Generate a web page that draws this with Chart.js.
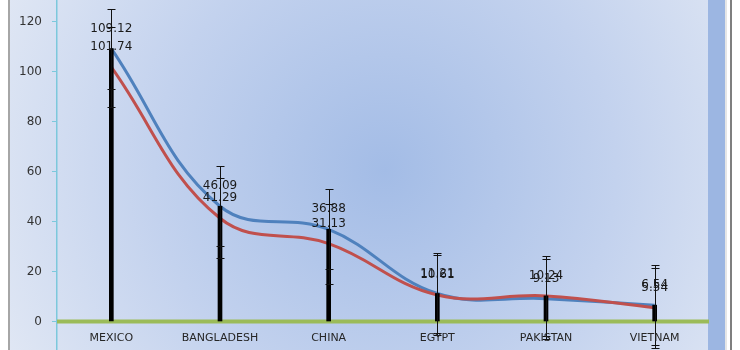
<!DOCTYPE html>
<html>
<head>
<meta charset="utf-8">
<script src="https://cdn.jsdelivr.net/npm/chart.js@4.4.1/dist/chart.umd.min.js"></script>
<style>
  html,body{ margin:0; padding:0; background:#fff; }
  #wrap{ width:740px; height:350px; }
</style>
</head>
<body>
<div id="wrap"><canvas id="chart" width="740" height="350"></canvas></div>
<script>
// values
const categories = ["MEXICO","BANGLADESH","CHINA","EGYPT","PAKISTAN","VIETNAM"];
const seriesBlue = [109.12, 46.09, 36.88, 11.21, 9.13, 6.54];
const seriesRed  = [101.74, 41.29, 31.13, 10.61, 10.24, 5.54];
const dropLines  = [109.12, 46.09, 36.88, 11.21, 10.24, 6.54];
const errorAmount = 16;
const yTicks = [0, 20, 40, 60, 80, 100, 120];

const BLUE = "#4F81BD", RED = "#C0504D", GREEN = "#9BBB59";

// background, frame, blue strip on the right
const bgPlugin = {
  id: "bg",
  beforeDraw(chart){
    const c = chart.ctx;
    c.save();
    c.fillStyle = "#fff";
    c.fillRect(0, 0, chart.width, chart.height);
    const g = c.createRadialGradient(385, 170, 0, 385, 170, 420);
    g.addColorStop(0, "#a3bce6");
    g.addColorStop(0.55, "#c3d2ee");
    g.addColorStop(1, "#e0e7f4");
    c.fillStyle = g;
    c.fillRect(10, 0, 698, chart.height);
    c.fillStyle = "#9cb6e2";
    c.fillRect(708, 0, 17, chart.height);
    c.fillStyle = "#e6e6e6";
    c.fillRect(725, 0, 2, chart.height);
    c.fillStyle = "#a6a6a6";
    c.fillRect(8, 0, 2, chart.height);
    c.fillStyle = "#7f7f7f";
    c.fillRect(730, 0, 2, chart.height);
    c.restore();
  }
};

const baselinePlugin = {
  id: "baseline",
  beforeDatasetsDraw(chart){
    const {ctx, chartArea, scales} = chart;
    const y0 = scales.y.getPixelForValue(0);
    ctx.save();
    ctx.strokeStyle = GREEN;
    ctx.lineWidth = 4;
    ctx.beginPath();
    ctx.moveTo(chartArea.left, y0);
    ctx.lineTo(chartArea.right, y0);
    ctx.stroke();
    ctx.restore();
  }
};

// data labels + error bars + category names
const marksPlugin = {
  id: "marks",
  afterDatasetsDraw(chart){
    const {ctx, scales} = chart;
    ctx.save();
    ctx.font = "12px 'DejaVu Sans'";
    ctx.fillStyle = "#1a1a1a";
    ctx.textAlign = "center";
    ctx.textBaseline = "middle";
    [1, 2].forEach(di=>{
      const meta = chart.getDatasetMeta(di);
      const vals = chart.data.datasets[di].data;
      meta.data.forEach((pt,i)=>{
        ctx.fillText(vals[i].toFixed(2), pt.x, pt.y - 20);
      });
    });
    ctx.strokeStyle = "#111";
    ctx.lineWidth = 1;
    [seriesBlue, seriesRed].forEach(arr=>{
      arr.forEach((v,i)=>{
        const x = Math.round(scales.x.getPixelForValue(i)) + 0.5;
        const yt = Math.round(scales.y.getPixelForValue(v + errorAmount)) + 0.5;
        const yb = Math.round(scales.y.getPixelForValue(v - errorAmount)) + 0.5;
        ctx.beginPath();
        ctx.moveTo(x, yt); ctx.lineTo(x, yb);
        ctx.moveTo(x - 4, yt); ctx.lineTo(x + 4, yt);
        ctx.moveTo(x - 4, yb); ctx.lineTo(x + 4, yb);
        ctx.stroke();
      });
    });
    ctx.font = "11px 'DejaVu Sans'";
    ctx.fillStyle = "#262626";
    const yl = scales.y.getPixelForValue(0) + 16.5;
    categories.forEach((name,i)=>{
      ctx.fillText(name, scales.x.getPixelForValue(i), yl);
    });
    ctx.restore();
  }
};

new Chart(document.getElementById("chart"), {
  type: "bar",
  data: {
    labels: categories,
    datasets: [
      { type:"bar", label:"drop", data: dropLines, backgroundColor:"#000", barThickness:4, order:0 },
      { type:"line", label:"Series 1", data: seriesBlue, borderColor:BLUE, borderWidth:3,
        pointRadius:0, tension:0.4, fill:false, order:2 },
      { type:"line", label:"Series 2", data: seriesRed, borderColor:RED, borderWidth:3,
        pointRadius:0, tension:0.4, fill:false, order:1 },
    ]
  },
  options: {
    responsive:false,
    animation:false,
    devicePixelRatio:1,
    layout:{ padding:{ left:0, right:31, top:0, bottom:0 } },
    plugins:{ legend:{ display:false }, tooltip:{ enabled:false } },
    scales:{
      x:{ type:"category", offset:true, display:false },
      y:{
        min:-11.4, max:128.6,
        afterBuildTicks(axis){ axis.ticks = yTicks.map(v=>({ value:v })); },
        afterFit(axis){ axis.width = 57; axis.paddingTop = 0; axis.paddingBottom = 0; },
        border:{ display:true, color:"#7cc8dc", width:1.5 },
        grid:{ drawOnChartArea:false, tickLength:5, tickColor:"#7cc8dc" },
        ticks:{ padding:10, color:"#333", font:{ family:"DejaVu Sans", size:12 } }
      }
    }
  },
  plugins:[bgPlugin, baselinePlugin, marksPlugin]
});
</script>
</body>
</html>
